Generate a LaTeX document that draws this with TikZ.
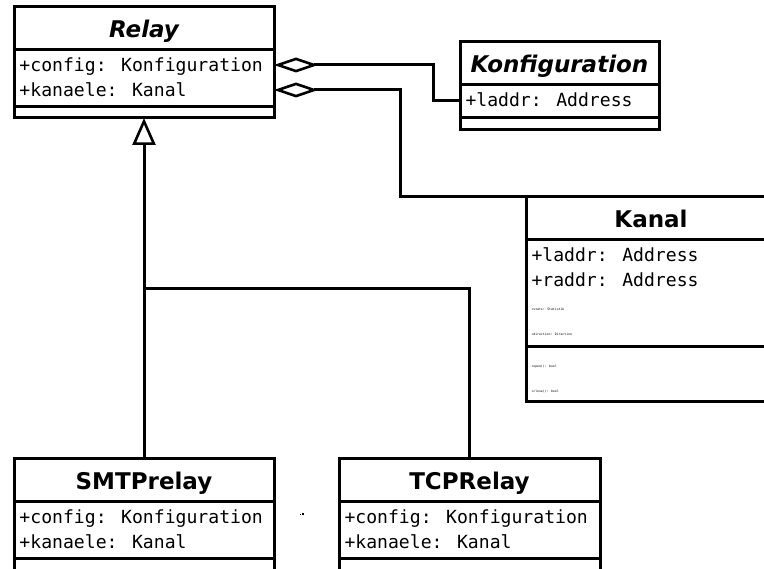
\documentclass[tikz,border=0pt]{standalone}
\usepackage{fontspec}
\setmainfont{DejaVu Sans}
\newfontfamily\umlmono{DejaVu Sans Mono}
\usetikzlibrary{arrows.meta}
\begin{document}
\begin{tikzpicture}[x=1pt,y=-1pt,line width=3pt,
  classbox/.style={draw,line width=3pt,inner sep=0pt,outer sep=0pt,anchor=north west},
  classname/.style={anchor=base,inner sep=0pt,font=\fontsize{23}{27}\selectfont\bfseries},
  abstractname/.style={classname,font=\fontsize{23}{27}\selectfont\bfseries\itshape},
  member/.style={anchor=base west,inner sep=0pt,font=\umlmono\fontsize{18.1}{22}\selectfont},
  smallmember/.style={anchor=base west,inner sep=0pt,font=\umlmono\fontsize{3.15}{4}\selectfont},
  aggregation/.style={line width=3pt,{Diamond[open,length=44pt,width=15pt,line width=2.6pt]}-},
  generalization/.style={line width=3pt,-{Triangle[open,length=27pt,width=23pt,line width=2.6pt]}}
]
\useasboundingbox (0,0) rectangle (764,569);
\clip (0,0) rectangle (764,569);

% Relay (abstract)
\node[classbox,minimum width=260pt,minimum height=111pt] (relay) at (14,7) {};
\draw ([yshift=-43pt]relay.north west) -- ([yshift=-43pt]relay.north east);
\draw ([yshift=-100pt]relay.north west) -- ([yshift=-100pt]relay.north east);
\node[abstractname] (relay-name) at (144,38) {Relay};
\node[member] (relay-cfg) at (18,71.7) {+config: Konfiguration};
\node[member] (relay-kan) at (18,96.7) {+kanaele: Kanal};

% Konfiguration (abstract)
\node[classbox,minimum width=199pt,minimum height=88pt] (konf) at (460,42) {};
\draw ([yshift=-43pt]konf.north west) -- ([yshift=-43pt]konf.north east);
\draw ([yshift=-76pt]konf.north west) -- ([yshift=-76pt]konf.north east);
\node[abstractname] (konf-name) at (559.5,73) {Konfiguration};
\node[member] (konf-laddr) at (464,107) {+laddr: Address};

% Kanal
\node[classbox,minimum width=250pt,minimum height=205pt] (kanal) at (526,197) {};
\draw ([yshift=-43pt]kanal.north west) -- ([yshift=-43pt]kanal.north east);
\draw ([yshift=-150pt]kanal.north west) -- ([yshift=-150pt]kanal.north east);
\node[classname] (kanal-name) at (651,228) {Kanal};
\node[member] (kanal-laddr) at (530,261.5) {+laddr: Address};
\node[member] (kanal-raddr) at (530,286.5) {+raddr: Address};
\node[smallmember] (kanal-stats) at (530,310.5) {+stats: Statistik};
\node[smallmember] (kanal-dir) at (530,335.5) {+direction: Direction};
\node[smallmember] (kanal-open) at (530,367.5) {+open(): bool};
\node[smallmember] (kanal-close) at (530,392.5) {+close(): bool};

% SMTPrelay
\node[classbox,minimum width=260pt,minimum height=140pt] (smtp) at (14,459) {};
\draw ([yshift=-43pt]smtp.north west) -- ([yshift=-43pt]smtp.north east);
\draw ([yshift=-99pt]smtp.north west) -- ([yshift=-99pt]smtp.north east);
\node[classname] (smtp-name) at (144,490) {SMTPrelay};
\node[member] (smtp-cfg) at (18,523.7) {+config: Konfiguration};
\node[member] (smtp-kan) at (18,548.7) {+kanaele: Kanal};

% TCPRelay
\node[classbox,minimum width=261pt,minimum height=140pt] (tcp) at (339,459) {};
\draw ([yshift=-43pt]tcp.north west) -- ([yshift=-43pt]tcp.north east);
\draw ([yshift=-99pt]tcp.north west) -- ([yshift=-99pt]tcp.north east);
\node[classname] (tcp-name) at (469.5,490) {TCPRelay};
\node[member] (tcp-cfg) at (343,523.7) {+config: Konfiguration};
\node[member] (tcp-kan) at (343,548.7) {+kanaele: Kanal};

% stray marks between the two subclasses
\fill (299.8,513.6) rectangle +(1,1);
\fill (302,513.4) rectangle +(2,1.3);

% aggregations
\coordinate (cfg-row) at (0,65);
\coordinate (kan-row) at (0,90);
\coordinate (laddr-row) at (0,101);
\draw[aggregation] (relay.east |- cfg-row) -- ++(159,0) |- (konf.west |- laddr-row);
\draw[aggregation] (relay.east |- kan-row) -- ++(126,0) |- (kanal.north west);

% generalizations
\coordinate (branch) at (144,289);
\draw[generalization] (smtp.north) -- (relay.south);
\draw (tcp.north) |- (branch);
\end{tikzpicture}
\end{document}
